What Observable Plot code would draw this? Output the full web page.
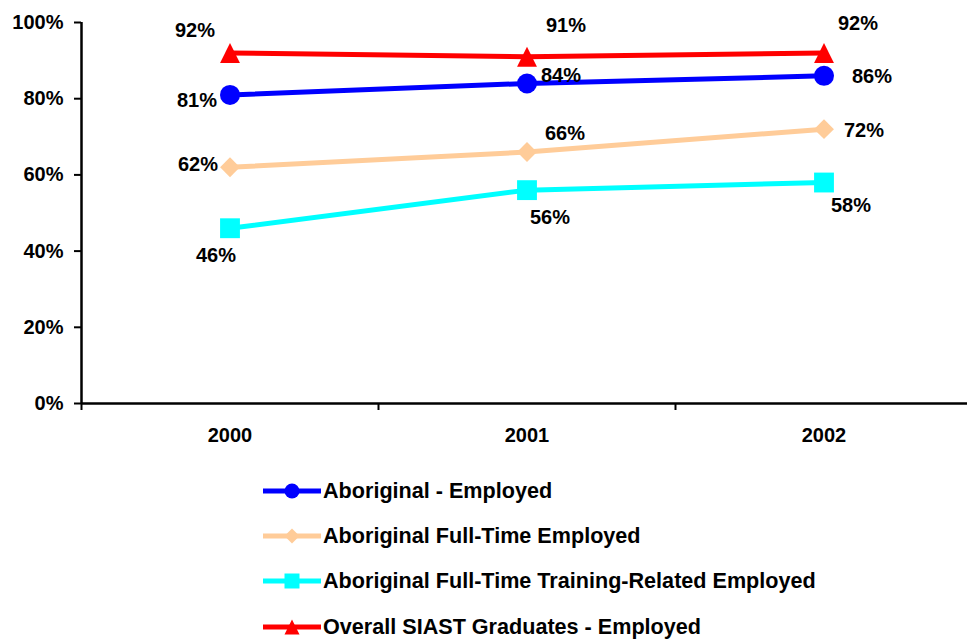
<!DOCTYPE html>
<html>
<head>
<meta charset="utf-8">
<script src="https://cdn.jsdelivr.net/npm/d3@7"></script>
<script src="https://cdn.jsdelivr.net/npm/@observablehq/plot@0.6"></script>
<style>
  html, body { margin: 0; padding: 0; background: #fff; }
  body { width: 967px; height: 639px; overflow: hidden; font-family: "Liberation Sans", Arial, sans-serif; font-weight: bold; }
  #legend { padding-left: 263px; }
  .row { height: 45.3px; display: flex; align-items: center; font-size: 21.6px; color: #000; }
  .row svg { margin-right: 2px; flex: none; }
</style>
</head>
<body>
<div id="chart"></div>
<div id="legend"></div>
<script>
// ---- data ----
const years = [2000, 2001, 2002];
const seriesNames = [
  "Aboriginal - Employed",
  "Aboriginal Full-Time Employed",
  "Aboriginal Full-Time Training-Related Employed",
  "Overall SIAST Graduates - Employed"
];
const aboriginalEmployed = [0.81, 0.84, 0.86];
const aboriginalFullTime = [0.62, 0.66, 0.72];
const aboriginalTrainingRelated = [0.46, 0.56, 0.58];
const overallEmployed = [0.92, 0.91, 0.92];
const yTicks = [0, 0.2, 0.4, 0.6, 0.8, 1];

// ---- styles ----
const triangleSym = {draw(ctx, size) { const s = Math.sqrt(size); ctx.moveTo(0, -s / 2); ctx.lineTo(s / 2, s / 2); ctx.lineTo(-s / 2, s / 2); ctx.closePath(); }};
const diamondSym = {draw(ctx, size) { const s = Math.sqrt(size); ctx.moveTo(0, -s / 2); ctx.lineTo(s / 2, 0); ctx.lineTo(0, s / 2); ctx.lineTo(-s / 2, 0); ctx.closePath(); }};
const squareSym = {draw(ctx, size) { const s = Math.sqrt(size); ctx.rect(-s / 2, -s / 2, s, s); }};
const seriesStyle = [
  {color: "#0000FF", symbol: "circle", r: 10},
  {color: "#FFCC99", symbol: diamondSym, r: 11.2},
  {color: "#00FFFF", symbol: squareSym, r: 11.2},
  {color: "#FF0000", symbol: triangleSym, r: 11.2}
];
// label offsets (px) per series per year
const labelOffsets = [
  [[-33, 6], [34, -8], [48, 1]],
  [[-32, -3], [38, -18], [40, 1]],
  [[-14, 27], [23, 27], [27, 23]],
  [[-35, -22], [39, -31], [34, -29]]
];

const seriesValues = [aboriginalEmployed, aboriginalFullTime, aboriginalTrainingRelated, overallEmployed];
const tables = seriesValues.map(vals => years.map((yr, i) => ({year: yr, value: vals[i]})));
const fmt = d3.format(".0%");
const boundaries = [years[0] - 0.5, ...years.map(y => y + 0.5)];

const marks = [];
tables.forEach((t, s) => {
  marks.push(Plot.line(t, {x: "year", y: "value", stroke: seriesStyle[s].color, strokeWidth: 5}));
});
tables.forEach((t, s) => {
  const st = seriesStyle[s];
  marks.push(Plot.dot(t, {x: "year", y: "value", fill: st.color, stroke: "none", symbol: st.symbol, r: st.r}));
});
tables.forEach((t, s) => {
  t.forEach((d, i) => {
    marks.push(Plot.text([d], {x: "year", y: "value", text: d => fmt(d.value), dx: labelOffsets[s][i][0], dy: labelOffsets[s][i][1], fill: "#000", fontSize: 20, fontWeight: "bold"}));
  });
});

const chart = Plot.plot({
  width: 967,
  height: 468,
  marginLeft: 81,
  marginRight: 0,
  marginTop: 22,
  marginBottom: 65,
  x: {domain: [boundaries[0], boundaries[boundaries.length - 1]], range: [81, 972], label: null},
  y: {domain: [0, 1], range: [403, 22], label: null},
  style: {fontFamily: '"Liberation Sans", Arial, sans-serif', fontWeight: "bold", fontSize: "20px", color: "#000", background: "#fff"},
  marks: [
    Plot.axisY({ticks: yTicks, tickFormat: fmt, tickSize: 7, tickPadding: 11, strokeWidth: 2, fontSize: 20, fontWeight: "bold", label: null}),
    Plot.axisX({ticks: boundaries.slice(0, -1), tickSize: 7, tickFormat: () => "", strokeWidth: 2, label: null}),
    Plot.axisX({ticks: years, tickSize: 0, tickPadding: 24, tickFormat: d => String(d), fontSize: 20, fontWeight: "bold", label: null}),
    Plot.ruleY([0], {stroke: "#000", strokeWidth: 2.5}),
    Plot.ruleX([boundaries[0]], {y1: 0, y2: 1, stroke: "#000", strokeWidth: 2.5}),
    ...marks
  ]
});
document.getElementById("chart").appendChild(chart);

// ---- legend ----
const legend = d3.select("#legend");
seriesNames.forEach((name, s) => {
  const st = seriesStyle[s];
  const row = legend.append("div").attr("class", "row");
  const svg = row.append("svg").attr("width", 58).attr("height", 20);
  svg.append("line").attr("x1", 0).attr("x2", 58).attr("y1", 10).attr("y2", 10)
    .attr("stroke", st.color).attr("stroke-width", 5);
  const sym = st.symbol === "circle" ? d3.symbolCircle : st.symbol;
  svg.append("path").attr("transform", "translate(29,10)")
    .attr("d", d3.symbol(sym, st.symbol === "circle" ? Math.PI * 7.5 * 7.5 : 225)())
    .attr("fill", st.color);
  row.append("span").text(name);
});
</script>
</body>
</html>
